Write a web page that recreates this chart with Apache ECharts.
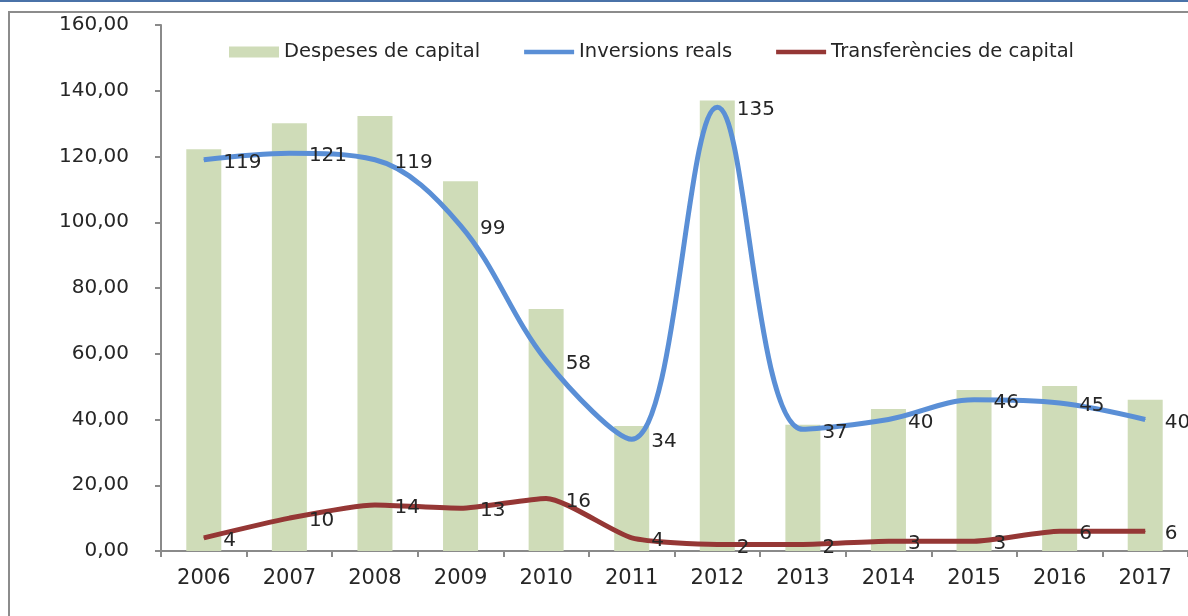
<!DOCTYPE html>
<html>
<head>
<meta charset="utf-8">
<script src="https://cdn.jsdelivr.net/npm/echarts@6/dist/echarts.min.js"></script>
<style>
  html, body { margin: 0; padding: 0; background: #fff; }
  #chart { width: 1188px; height: 616px; }
</style>
</head>
<body>
<div id="chart"></div>
<script>
const years = ['2006', '2007', '2008', '2009', '2010', '2011', '2012', '2013', '2014', '2015', '2016', '2017'];
const despeses = [122.2, 130.1, 132.3, 112.5, 73.6, 38.0, 137.0, 38.4, 43.2, 49.0, 50.2, 46.0];
const inversions = [119, 121, 119, 99, 58, 34, 135, 37, 40, 46, 45, 40];
const transferencies = [4, 10, 14, 13, 16, 4, 2, 2, 3, 3, 6, 6];

const FONT = '"DejaVu Sans", sans-serif';
const TEXT = '#262626';
const AXIS = '#8a8a8a';
const LINE_ICON = 'path://M0,0 L56,0 L56,5 L0,5 Z';

const chart = echarts.init(document.getElementById('chart'));

const valueLabel = {
  show: true,
  position: 'right',
  distance: 19,
  offset: [0, 3],
  color: TEXT,
  fontSize: 20,
  fontFamily: FONT,
};

chart.setOption({
  animation: false,
  textStyle: { fontFamily: FONT },
  graphic: [
    { type: 'line', shape: { x1: 0, y1: 1, x2: 1188, y2: 1 }, style: { stroke: '#4a72a8', lineWidth: 2 } },
    { type: 'polyline', shape: { points: [[9, 640], [9, 12], [1200, 12]] }, style: { stroke: '#8c8c8c', lineWidth: 2, fill: null } },
  ],
  legend: {
    left: 224,
    top: 37,
    itemWidth: 50,
    itemHeight: 11,
    itemGap: 44,
    textStyle: { color: TEXT, fontSize: 19.5, fontFamily: FONT },
    data: [
      { name: 'Despeses de capital', icon: 'rect' },
      { name: 'Inversions reals', icon: LINE_ICON },
      { name: 'Transferències de capital', icon: LINE_ICON },
    ],
  },
  grid: { left: 161, top: 25, width: 1030, bottom: 65 },
  xAxis: {
    type: 'category',
    data: years,
    axisLine: { lineStyle: { color: AXIS, width: 2 } },
    axisTick: { show: true, length: 6, lineStyle: { color: AXIS, width: 2 } },
    axisLabel: { color: TEXT, fontSize: 21, margin: 17, fontFamily: FONT },
  },
  yAxis: {
    type: 'value',
    min: 0,
    max: 160,
    interval: 20,
    axisLine: { show: true, lineStyle: { color: AXIS, width: 2 } },
    axisTick: { show: true, length: 6, lineStyle: { color: AXIS, width: 2 } },
    splitLine: { show: false },
    axisLabel: {
      color: TEXT,
      fontSize: 20,
      margin: 32,
      fontFamily: FONT,
      formatter: (v) => v.toFixed(2).replace('.', ','),
    },
  },
  series: [
    {
      name: 'Despeses de capital',
      type: 'bar',
      data: despeses,
      barWidth: 35,
      itemStyle: { color: '#cfdcb8' },
    },
    {
      name: 'Inversions reals',
      type: 'line',
      data: inversions,
      smooth: 0.35,
      symbol: 'circle',
      symbolSize: 1,
      lineStyle: { color: '#5a8fd6', width: 5 },
      itemStyle: { color: '#5a8fd6' },
      label: valueLabel,
    },
    {
      name: 'Transferències de capital',
      type: 'line',
      data: transferencies,
      smooth: 0.2,
      symbol: 'circle',
      symbolSize: 1,
      lineStyle: { color: '#953735', width: 5 },
      itemStyle: { color: '#953735' },
      label: valueLabel,
    },
  ],
});
</script>
</body>
</html>
